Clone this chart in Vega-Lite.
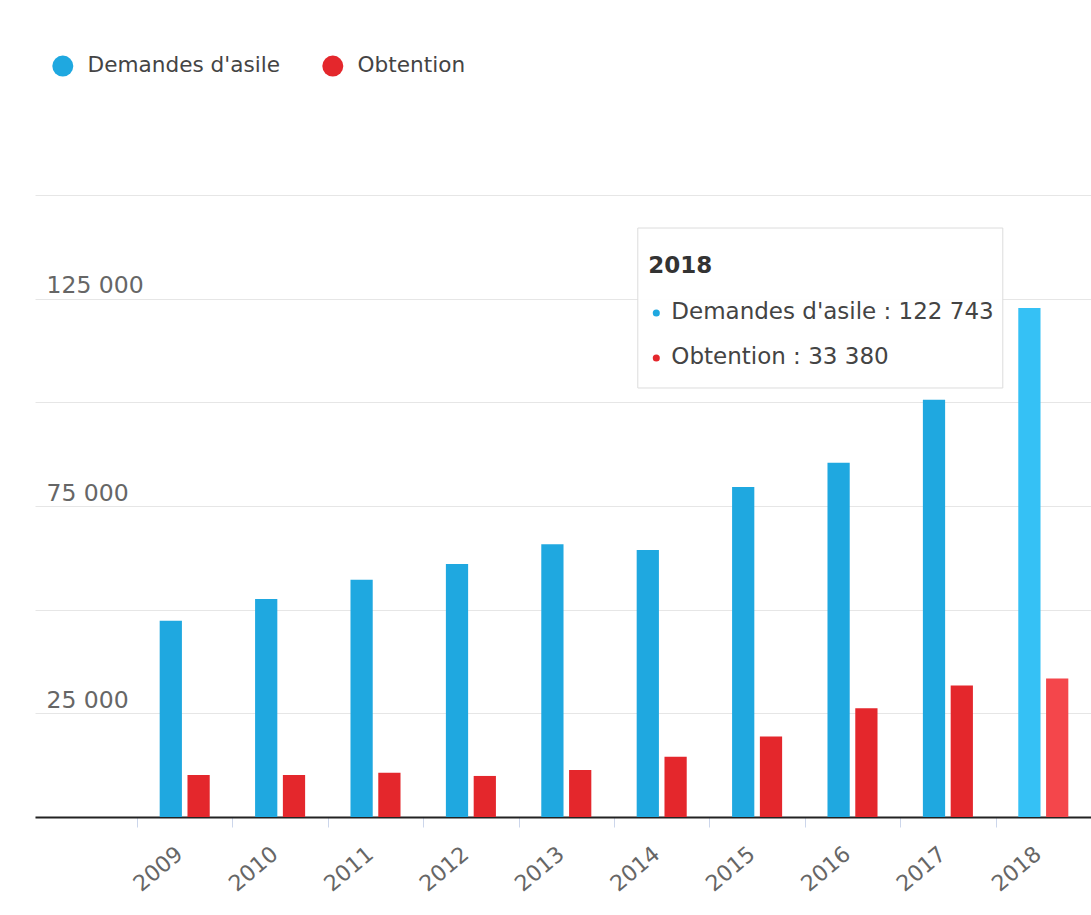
{
  "$schema": "https://vega.github.io/schema/vega-lite/v6.json",
  "width": 1056,
  "height": 622,
  "autosize": {"type": "none"},
  "padding": {"left": 35, "top": 195, "right": 0, "bottom": 98},
  "background": "#ffffff",
  "config": {"font": "DejaVu Sans", "view": {"stroke": null}},
  "data": {
    "values": [
      {"year": "2009", "serie": "Demandes d'asile", "value": 47300},
      {"year": "2010", "serie": "Demandes d'asile", "value": 52600},
      {"year": "2011", "serie": "Demandes d'asile", "value": 57200},
      {"year": "2012", "serie": "Demandes d'asile", "value": 61000},
      {"year": "2013", "serie": "Demandes d'asile", "value": 65800},
      {"year": "2014", "serie": "Demandes d'asile", "value": 64400},
      {"year": "2015", "serie": "Demandes d'asile", "value": 79600},
      {"year": "2016", "serie": "Demandes d'asile", "value": 85400},
      {"year": "2017", "serie": "Demandes d'asile", "value": 100600},
      {"year": "2018", "serie": "Demandes d'asile", "value": 122743},
      {"year": "2009", "serie": "Obtention", "value": 10150},
      {"year": "2010", "serie": "Obtention", "value": 10150},
      {"year": "2011", "serie": "Obtention", "value": 10700},
      {"year": "2012", "serie": "Obtention", "value": 9900},
      {"year": "2013", "serie": "Obtention", "value": 11350},
      {"year": "2014", "serie": "Obtention", "value": 14550},
      {"year": "2015", "serie": "Obtention", "value": 19400},
      {"year": "2016", "serie": "Obtention", "value": 26200},
      {"year": "2017", "serie": "Obtention", "value": 31700},
      {"year": "2018", "serie": "Obtention", "value": 33380}
    ]
  },
  "encoding": {
    "x": {
      "field": "year",
      "type": "nominal",
      "scale": {
        "domain": ["2009", "2010", "2011", "2012", "2013", "2014", "2015", "2016", "2017", "2018"],
        "paddingInner": 0,
        "paddingOuter": 0.5346,
        "align": 1
      },
      "axis": {
        "title": null,
        "domain": true,
        "domainColor": "#222222",
        "domainWidth": 2,
        "ticks": true,
        "tickBand": "extent",
        "tickColor": "#ccd6eb",
        "tickSize": 10,
        "tickWidth": 1,
        "labelAngle": -40,
        "labelAlign": "right",
        "labelBaseline": "top",
        "labelPadding": 16,
        "labelOffset": -12,
        "labelFontSize": 22,
        "labelColor": "#666666",
        "grid": false
      }
    },
    "y": {
      "field": "value",
      "type": "quantitative",
      "scale": {"domain": [0, 150000], "nice": false},
      "axis": {
        "title": null,
        "domain": false,
        "ticks": false,
        "tickSize": 0,
        "values": [0, 25000, 50000, 75000, 100000, 125000, 150000],
        "grid": true,
        "gridColor": "#e6e6e6",
        "gridWidth": 1,
        "labelAlign": "left",
        "labelBaseline": "alphabetic",
        "labelPadding": -11,
        "labelOffset": -6,
        "labelFontSize": 23.5,
        "labelColor": "#666666",
        "labelExpr": "datum.value % 50000 == 25000 ? replace(format(datum.value, ','), ',', ' ') : ''"
      }
    }
  },
  "layer": [
    {
      "mark": {"type": "bar"},
      "encoding": {
        "xOffset": {
          "field": "serie",
          "type": "nominal",
          "scale": {"domain": ["Demandes d'asile", "Obtention"], "paddingInner": 0.2, "paddingOuter": 0.816}
        },
        "color": {
          "field": "serie",
          "type": "nominal",
          "scale": {"domain": ["Demandes d'asile", "Obtention"], "range": ["#1fa8e0", "#e4272c"]},
          "condition": [
            {"test": "datum.year === '2018' && datum.serie === 'Obtention'", "value": "#f4464b"},
            {"test": "datum.year === '2018'", "value": "#35c1f5"}
          ],
          "legend": {
            "title": null,
            "orient": "none",
            "legendX": 17,
            "legendY": -140,
            "direction": "horizontal",
            "symbolType": "circle",
            "symbolSize": 441,
            "symbolStrokeWidth": 0,
            "labelFontSize": 21.6,
            "labelColor": "#444444",
            "labelOffset": 14,
            "labelLimit": 500,
            "columnPadding": 42,
            "padding": 0
          }
        }
      }
    },
    {
      "transform": [{"filter": "datum.year === '2018' && datum.serie === 'Obtention'"}],
      "mark": {"type": "rect", "fill": "#ffffff", "fillOpacity": 0.96, "stroke": "#dcdcdc", "strokeWidth": 1, "width": 365, "xOffset": -223},
      "encoding": {
        "x": {"datum": "2018"},
        "y": {"datum": 142040},
        "y2": {"datum": 103460}
      }
    },
    {
      "transform": [{"filter": "datum.year === '2018' && datum.serie === 'Obtention'"}],
      "mark": {"type": "text", "text": "2018", "align": "left", "baseline": "alphabetic", "fontSize": 23, "fontWeight": "bold", "fill": "#333333", "dx": -395},
      "encoding": {"x": {"datum": "2018"}, "y": {"datum": 131190}}
    },
    {
      "transform": [{"filter": "datum.year === '2018' && datum.serie === 'Obtention'"}],
      "mark": {"type": "text", "text": "Demandes d'asile : 122 743", "align": "left", "baseline": "alphabetic", "fontSize": 23, "fill": "#444444", "dx": -372},
      "encoding": {"x": {"datum": "2018"}, "y": {"datum": 120096}}
    },
    {
      "transform": [{"filter": "datum.year === '2018' && datum.serie === 'Obtention'"}],
      "mark": {"type": "text", "text": "Obtention : 33 380", "align": "left", "baseline": "alphabetic", "fontSize": 23, "fill": "#444444", "dx": -372},
      "encoding": {"x": {"datum": "2018"}, "y": {"datum": 109244}}
    },
    {
      "transform": [{"filter": "datum.year === '2018' && datum.serie === 'Obtention'"}],
      "mark": {"type": "circle", "size": 50, "opacity": 1, "fill": "#1fa8e0", "xOffset": -387},
      "encoding": {"x": {"datum": "2018"}, "y": {"datum": 121543}}
    },
    {
      "transform": [{"filter": "datum.year === '2018' && datum.serie === 'Obtention'"}],
      "mark": {"type": "circle", "size": 50, "opacity": 1, "fill": "#e4272c", "xOffset": -387},
      "encoding": {"x": {"datum": "2018"}, "y": {"datum": 110691}}
    }
  ]
}
